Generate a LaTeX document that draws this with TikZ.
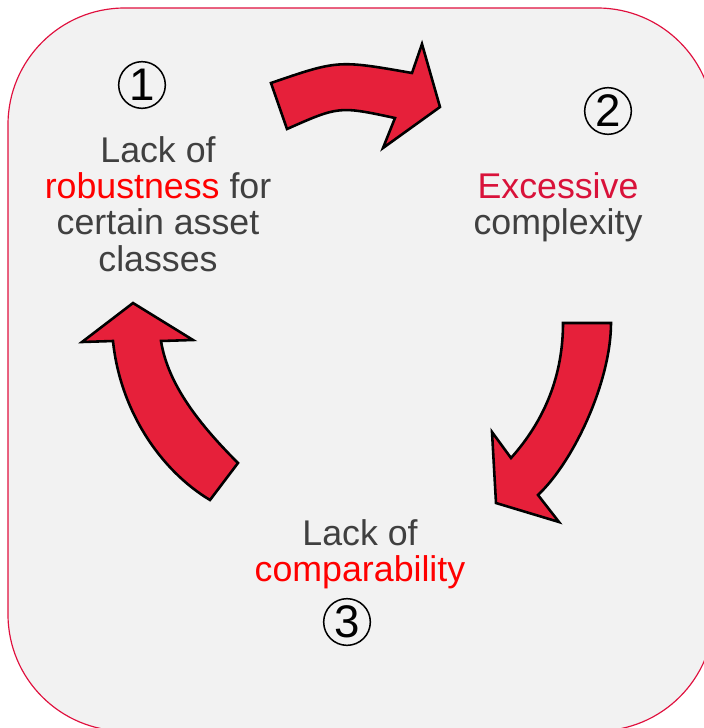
\documentclass[tikz,border=0pt]{standalone}
\usepackage{fontspec}
\setmainfont{Liberation Sans}
\usetikzlibrary{calc}

\definecolor{boxred}{HTML}{E0103E}
\definecolor{arrowred}{HTML}{E6203A}
\definecolor{hotred}{HTML}{FF0000}
\definecolor{deepred}{HTML}{D9123A}
\definecolor{textgrey}{HTML}{404040}
\definecolor{panel}{HTML}{F2F2F2}

\tikzset{
  bigarrow/.style={fill=arrowred, draw=black, line width=2.2pt, line join=miter},
  label/.style={text=textgrey, align=center, font=\fontsize{30.5}{30.9}\selectfont},
  number/.style={circle, draw=black, line width=1.3pt, text=black, minimum size=1.4cm,
    inner sep=0pt, font=\fontsize{39}{39}\selectfont}
}

\begin{document}
\begin{tikzpicture}[x=0.03cm, y=-0.03cm]
  \useasboundingbox (0,0) rectangle (704,728);
  \clip (0,0) rectangle (704,728);

  % panel
  \draw[fill=panel, draw=boxred, line width=1pt, rounded corners=3.5cm] (8,8) rectangle (714,731);

  % curved arrows
  \draw[bigarrow] (271,83) .. controls (338,60) .. (412,73) -- (422,44) -- (440,107)
        -- (383,148) -- (395,118) .. controls (339,106) .. (287,129) -- cycle;
  \draw[bigarrow] (563,323) -- (611,323) .. controls (611,380) and (575,460) .. (538,495)
        -- (559,522) -- (496,503) -- (492,432) -- (511,458)
        .. controls (545,420) and (563,375) .. (563,323) -- cycle;
  \draw[bigarrow] (238,463) .. controls (200,425) and (168,385) .. (161,341) -- (193,340)
        -- (133,303) -- (82,342) -- (113,341)
        .. controls (120,410) and (160,470) .. (210,500) -- cycle;

  % numbers
  \node[number] (one) at (142,85) {1};
  \node[number] (two) at (608,111) {2};
  \node[number] (three) at (347,622) {3};

  % texts
  \node[label] (robust) at (158,204) {Lack of\\ \textcolor{hotred}{robustness} for\\ certain asset\\ classes};
  \node[label] (complex) at (558,207) {\textcolor{deepred}{Excessive}\\ complexity};
  \node[label] (compare) at (360,554) {Lack of\\ \textcolor{hotred}{comparability}};
\end{tikzpicture}
\end{document}
